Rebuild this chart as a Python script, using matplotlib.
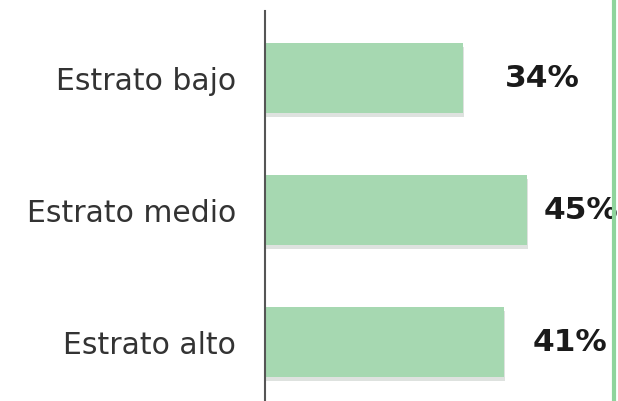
import matplotlib.pyplot as plt
import matplotlib.lines as mlines

categories = ['Estrato bajo', 'Estrato medio', 'Estrato alto']
values = [34, 45, 41]
labels = ['34%', '45%', '41%']

W, H = 618, 402
fig = plt.figure(figsize=(W / 100, H / 100), dpi=100)
ax = fig.add_axes([265 / W, 0, 1 - 265 / W, 1 - 12 / H])

ypos = list(range(len(categories)))
bar_h = 0.53
# soft shadow under the bars
ax.barh([y + 0.03 for y in ypos], [v + 0.25 for v in values], height=bar_h,
        color='#c9cfca', alpha=0.6, zorder=1)
ax.barh(ypos, values, height=bar_h, color='#a6d8b1', zorder=2)

offsets = [30, 12, 21]  # points
for y, v, lab, off in zip(ypos, values, labels, offsets):
    ax.annotate(lab, (v, y), xytext=(off, 0), textcoords='offset points',
                ha='left', va='center', fontsize=22.5, fontweight='bold',
                color='#1a1a1a')

ax.set_xlim(0, (W - 265) / 5.82)
ax.set_ylim(2.447, -0.507)
ax.set_yticks(ypos)
ax.set_yticklabels(categories, fontsize=21.5, color='#333333')
ax.tick_params(axis='y', length=0, pad=21)
ax.set_xticks([])
for side in ['top', 'right', 'bottom']:
    ax.spines[side].set_visible(False)
ax.spines['left'].set_color('#555555')
ax.spines['left'].set_linewidth(1.5)

fig.add_artist(mlines.Line2D([613.5 / W, 613.5 / W], [0, 1], color='#8fd49c',
                             linewidth=3, transform=fig.transFigure))

fig.savefig('out.png', dpi=100)
